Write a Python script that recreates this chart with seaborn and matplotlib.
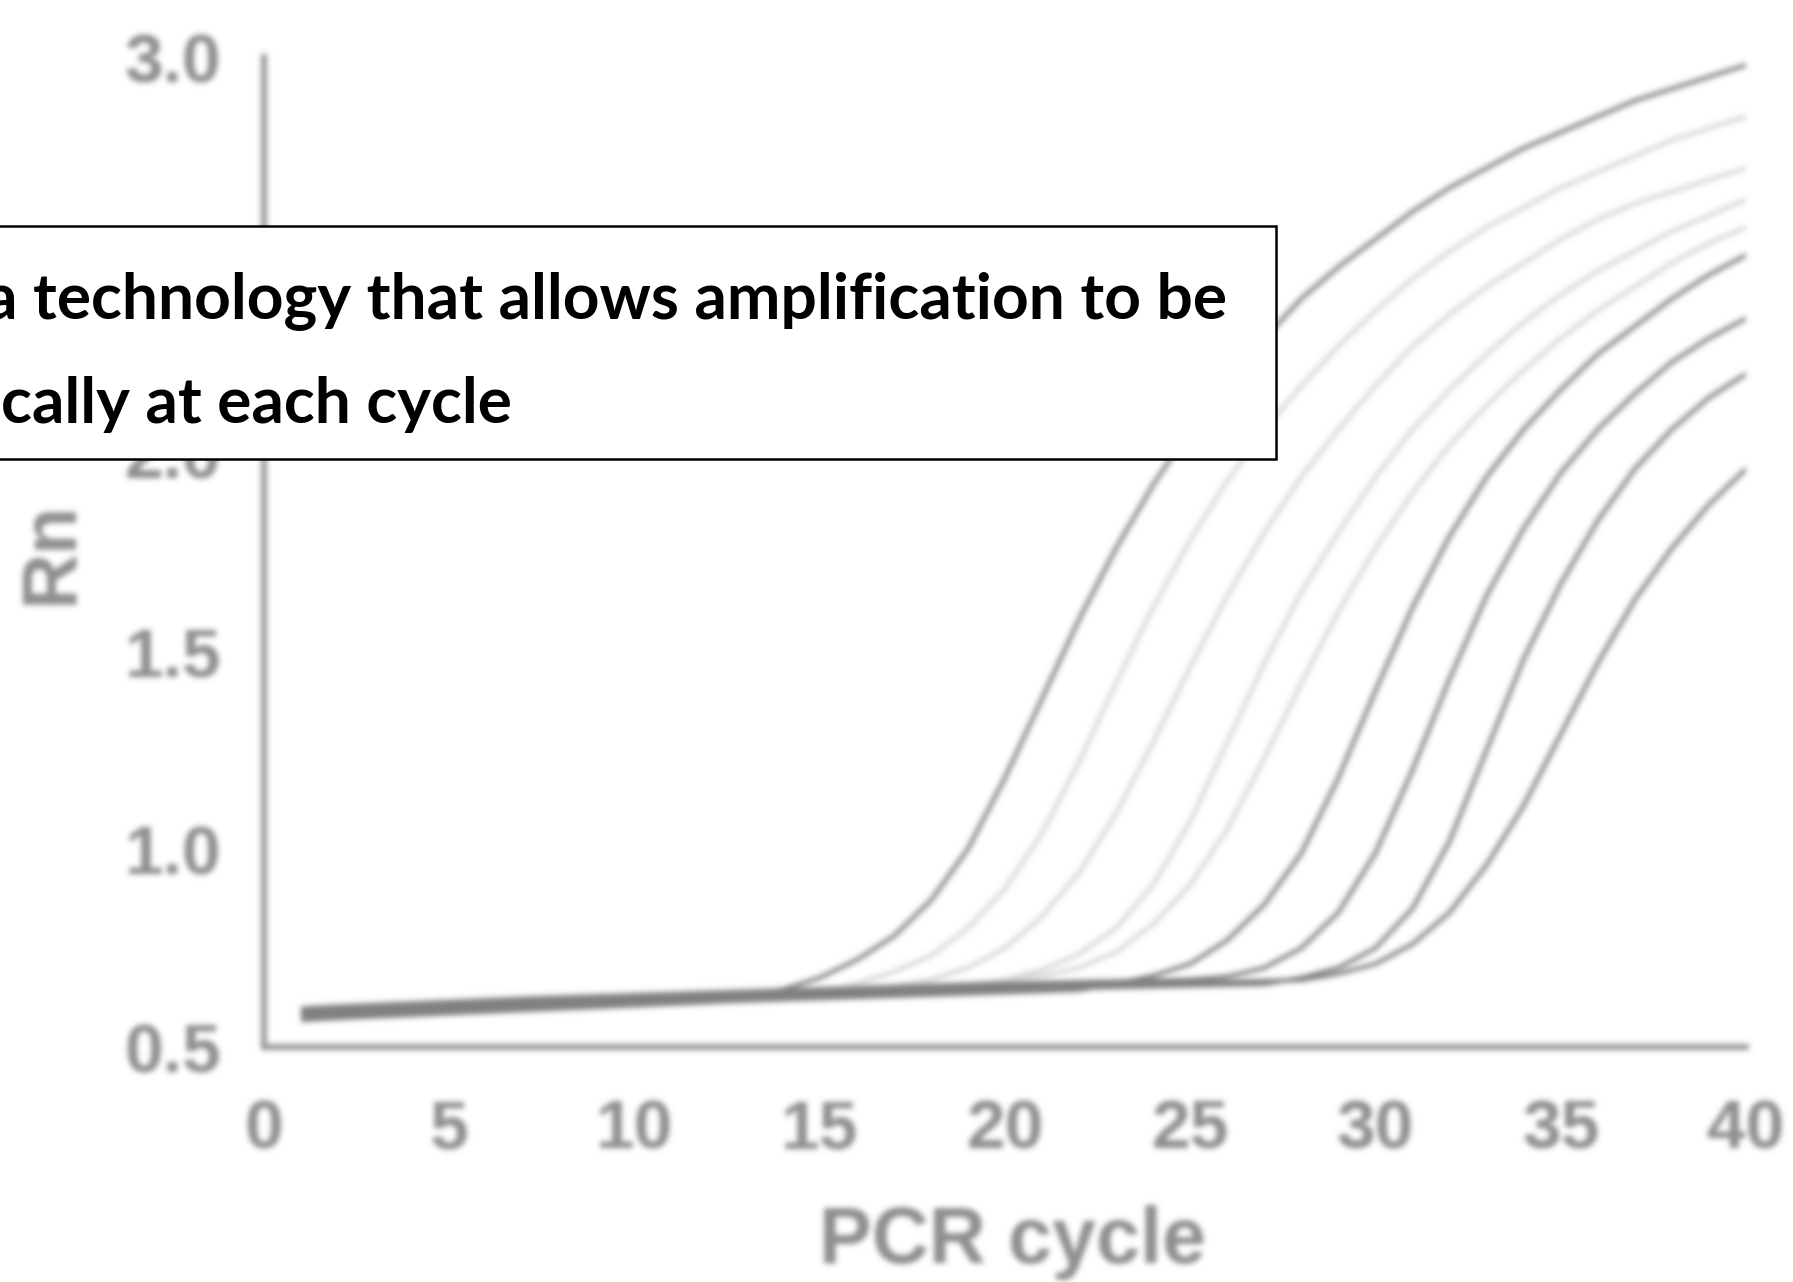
import numpy as np
import pandas as pd
import matplotlib
matplotlib.use("Agg")
import matplotlib.pyplot as plt
import seaborn as sns
from matplotlib.patches import Rectangle

# ---- amplification curves: normalised reporter signal (Rn) per PCR cycle ----
cycles = list(range(1, 41))

sample_1 = [0.568, 0.573, 0.577, 0.581, 0.585, 0.589, 0.593, 0.597, 0.601, 0.605,
            0.609, 0.613, 0.625, 0.645, 0.675, 0.72, 0.78, 0.87, 1.00, 1.18,
            1.38, 1.58, 1.76, 1.92, 2.06, 2.18, 2.29, 2.39, 2.47, 2.54,
            2.61, 2.67, 2.72, 2.77, 2.81, 2.85, 2.89, 2.92, 2.95, 2.98]
sample_2 = [0.578, 0.583, 0.587, 0.591, 0.595, 0.599, 0.603, 0.606, 0.609, 0.612,
            0.615, 0.618, 0.621, 0.626, 0.640, 0.660, 0.69, 0.73, 0.80, 0.90,
            1.04, 1.22, 1.42, 1.61, 1.78, 1.93, 2.06, 2.17, 2.27, 2.36,
            2.44, 2.51, 2.57, 2.62, 2.67, 2.71, 2.75, 2.79, 2.82, 2.85]
sample_3 = [0.592, 0.597, 0.601, 0.605, 0.609, 0.613, 0.617, 0.620, 0.623, 0.626,
            0.629, 0.632, 0.635, 0.638, 0.641, 0.644, 0.655, 0.67, 0.70, 0.75,
            0.83, 0.94, 1.09, 1.27, 1.46, 1.64, 1.80, 1.94, 2.06, 2.17,
            2.27, 2.35, 2.42, 2.48, 2.54, 2.59, 2.63, 2.66, 2.69, 2.72]
sample_4 = [0.585, 0.590, 0.594, 0.598, 0.602, 0.606, 0.610, 0.613, 0.616, 0.619,
            0.622, 0.625, 0.628, 0.631, 0.634, 0.637, 0.640, 0.643, 0.655, 0.67,
            0.695, 0.735, 0.80, 0.91, 1.07, 1.27, 1.47, 1.65, 1.80, 1.94,
            2.06, 2.16, 2.25, 2.33, 2.40, 2.46, 2.51, 2.56, 2.60, 2.64]
sample_5 = [0.600, 0.605, 0.609, 0.613, 0.617, 0.621, 0.625, 0.628, 0.631, 0.634,
            0.637, 0.640, 0.643, 0.646, 0.649, 0.652, 0.655, 0.658, 0.661, 0.668,
            0.68, 0.70, 0.74, 0.81, 0.91, 1.05, 1.23, 1.42, 1.60, 1.76,
            1.90, 2.02, 2.12, 2.21, 2.29, 2.36, 2.42, 2.48, 2.53, 2.57]
sample_6 = [0.574, 0.579, 0.583, 0.587, 0.591, 0.595, 0.599, 0.602, 0.605, 0.608,
            0.611, 0.614, 0.617, 0.620, 0.623, 0.626, 0.629, 0.632, 0.635, 0.638,
            0.641, 0.644, 0.66, 0.68, 0.71, 0.77, 0.86, 0.99, 1.18, 1.40,
            1.61, 1.79, 1.94, 2.06, 2.16, 2.25, 2.32, 2.39, 2.45, 2.50]
sample_7 = [0.596, 0.601, 0.605, 0.609, 0.613, 0.617, 0.621, 0.624, 0.627, 0.630,
            0.633, 0.636, 0.639, 0.642, 0.645, 0.648, 0.651, 0.654, 0.657, 0.660,
            0.662, 0.664, 0.666, 0.668, 0.670, 0.678, 0.70, 0.75, 0.84, 0.99,
            1.20, 1.43, 1.64, 1.81, 1.95, 2.06, 2.15, 2.23, 2.29, 2.34]
sample_8 = [0.581, 0.586, 0.590, 0.594, 0.598, 0.602, 0.606, 0.609, 0.612, 0.615,
            0.618, 0.621, 0.624, 0.627, 0.630, 0.633, 0.636, 0.639, 0.642, 0.645,
            0.647, 0.649, 0.651, 0.653, 0.655, 0.657, 0.659, 0.675, 0.70, 0.75,
            0.85, 1.02, 1.25, 1.48, 1.67, 1.83, 1.96, 2.06, 2.14, 2.20]
sample_9 = [0.589, 0.594, 0.598, 0.602, 0.606, 0.610, 0.614, 0.617, 0.620, 0.623,
            0.626, 0.629, 0.632, 0.635, 0.638, 0.641, 0.644, 0.647, 0.650, 0.653,
            0.655, 0.657, 0.659, 0.661, 0.663, 0.665, 0.667, 0.669, 0.685, 0.71,
            0.76, 0.84, 0.96, 1.11, 1.29, 1.47, 1.63, 1.76, 1.87, 1.96]

light_samples = {"S2": sample_2, "S3": sample_3, "S4": sample_4, "S5": sample_5}
dark_samples = {"S1": sample_1, "S6": sample_6, "S7": sample_7, "S8": sample_8, "S9": sample_9}

x_ticks = [0, 5, 10, 15, 20, 25, 30, 35, 40]
y_ticks = [0.5, 1.0, 1.5, 2.0, 2.5, 3.0]

caption_lines = ["a technology that allows amplification to be",
                 "cally at each cycle"]


class SoftFocus:
    """Gaussian blur applied to an artist's rendered pixels (agg filter)."""

    def __init__(self, sigma):
        self.sigma = sigma

    def __call__(self, im, dpi):
        sigma = self.sigma * dpi / 100.0
        r = int(np.ceil(3 * sigma))
        k = np.exp(-0.5 * (np.arange(-r, r + 1) / sigma) ** 2)
        k = (k / k.sum()).astype(np.float32)
        src = np.pad(im.astype(np.float32), ((2 * r, 2 * r), (2 * r, 2 * r), (0, 0)))
        a = src[..., 3:4]
        pm = np.concatenate([src[..., :3] * a, a], axis=-1)
        h, w = pm.shape[:2]
        tmp = np.zeros((h, w - 2 * r, 4), np.float32)
        for i, wt in enumerate(k):
            tmp += wt * pm[:, i:i + w - 2 * r]
        out = np.zeros((h - 2 * r, w - 2 * r, 4), np.float32)
        for i, wt in enumerate(k):
            out += wt * tmp[i:i + h - 2 * r]
        alpha = out[..., 3:4]
        rgb = out[..., :3] / np.maximum(alpha, 1e-6)
        res = np.concatenate([np.clip(rgb, 0, 1), np.clip(alpha, 0, 1)], axis=-1)
        return res, -r, -r


sns.set_style("white")
plt.rcParams["font.family"] = ["Liberation Sans", "DejaVu Sans"]

fig = plt.figure(figsize=(17.93, 12.82), dpi=100)
fig.patch.set_facecolor("white")
ax = fig.add_axes([0.1472, 0.1833, 0.8266, 0.7722])
ax.patch.set_visible(False)

rows = []
for name, vals in {**light_samples, **dark_samples}.items():
    rows.append(pd.DataFrame({"cycle": cycles, "Rn": vals, "sample": name}))
df = pd.concat(rows, ignore_index=True)

palette = {name: "#d6d6d6" for name in light_samples}
palette.update({name: "#808080" for name in dark_samples})

sns.lineplot(data=df[df["sample"].isin(light_samples)], x="cycle", y="Rn",
             hue="sample", palette=palette, legend=False, estimator=None,
             sort=False, linewidth=3.0, ax=ax)
sns.lineplot(data=df[df["sample"].isin(dark_samples)], x="cycle", y="Rn",
             hue="sample", palette=palette, legend=False, estimator=None,
             sort=False, linewidth=3.0, ax=ax)
for ln in ax.lines:
    ln.set_solid_capstyle("butt")
    ln.set_solid_joinstyle("round")

axis_grey = "#949494"
label_grey = "#8e8e8e"
ax.set_xlim(0, 40)
ax.set_ylim(0.5, 3.0)
ax.set_xticks(x_ticks)
ax.set_yticks(y_ticks)
ax.set_xticklabels([str(v) for v in x_ticks])
ax.set_yticklabels([f"{v:.1f}" for v in y_ticks])
sns.despine(ax=ax)
for side in ("left", "bottom"):
    ax.spines[side].set_color(axis_grey)
    ax.spines[side].set_linewidth(4.2)
ax.tick_params(axis="both", direction="out", length=23, width=3.6,
               color=axis_grey, labelcolor=label_grey, labelsize=50)
ax.tick_params(axis="x", pad=14)
ax.tick_params(axis="y", pad=8)
for lab in ax.get_xticklabels() + ax.get_yticklabels():
    lab.set_fontweight("bold")

ax.set_xlabel("PCR cycle", fontsize=57, fontweight="bold", color=label_grey)
ax.set_ylabel("Rn", fontsize=56, fontweight="bold", color=label_grey)
ax.xaxis.set_label_coords(0.505, -0.16)
ax.yaxis.set_label_coords(-0.119, 0.5)

# soft focus over the whole plotting area
ax.set_agg_filter(SoftFocus(2.8))

# caption box laid over the chart
W, H = 1793.0, 1282.0
fig.add_artist(Rectangle((-10 / W, 1 - 459 / H), 1286 / W, 233 / H,
                         transform=fig.transFigure, facecolor="white",
                         edgecolor="black", linewidth=1.8, zorder=5))
t1 = fig.text(-15 / W, 1 - 318 / H, caption_lines[0], ha="left", va="baseline",
              fontsize=40, fontweight="bold", family=["Lato", "DejaVu Sans"],
              color="black", zorder=6)
t2 = fig.text(1 / W, 1 - 423 / H, caption_lines[1], ha="left", va="baseline",
              fontsize=40, fontweight="bold", family=["Lato", "DejaVu Sans"],
              color="black", zorder=6)
renderer = fig.canvas.get_renderer()
width_px = t1.get_window_extent(renderer).width
fs = 40 * 1242.0 / width_px
t1.set_fontsize(fs)
t2.set_fontsize(fs)

fig.savefig("out.png", dpi=100, facecolor="white")
